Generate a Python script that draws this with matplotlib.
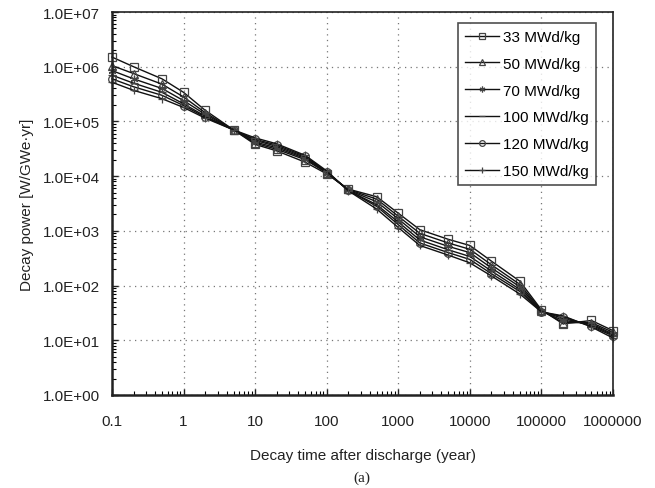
import matplotlib
matplotlib.use("Agg")
import matplotlib.pyplot as plt
from matplotlib.ticker import LogLocator, FixedLocator, FixedFormatter, NullFormatter

plt.rcParams['font.family'] = ['Liberation Sans', 'DejaVu Sans']

time_years = [0.1, 0.2, 0.5, 1, 2, 5, 10, 20, 50, 100, 200, 500, 1e3, 2e3,
              5e3, 1e4, 2e4, 5e4, 1e5, 2e5, 5e5, 1e6]

labels = ["33 MWd/kg", "50 MWd/kg", "70 MWd/kg", "100 MWd/kg", "120 MWd/kg", "150 MWd/kg"]

p33 = [1.5e6, 1.0e6, 6.0e5, 3.4e5, 1.6e5, 7.0e4, 3.8e4, 2.9e4, 1.8e4, 1.1e4, 5.8e3, 4.2e3,
       2.1e3, 1.05e3, 7.0e2, 5.4e2, 2.8e2, 1.2e2, 3.6e1, 2.0e1, 2.3e1, 1.5e1]
p50 = [1.05e6, 7.5e5, 4.8e5, 2.8e5, 1.45e5, 7.0e4, 4.0e4, 3.1e4, 2.0e4, 1.15e4, 5.7e3, 3.8e3,
       1.85e3, 9.0e2, 6.0e2, 4.6e2, 2.4e2, 1.05e2, 3.5e1, 2.1e1, 2.1e1, 1.4e1]
p70 = [8.5e5, 6.0e5, 4.0e5, 2.4e5, 1.35e5, 7.0e4, 4.2e4, 3.3e4, 2.1e4, 1.15e4, 5.6e3, 3.4e3,
       1.65e3, 7.8e2, 5.2e2, 4.0e2, 2.1e2, 9.5e1, 3.4e1, 2.3e1, 2.0e1, 1.3e1]
p100 = [7.0e5, 5.0e5, 3.4e5, 2.1e5, 1.25e5, 7.0e4, 4.5e4, 3.5e4, 2.2e4, 1.2e4, 5.5e3, 3.0e3,
        1.45e3, 6.8e2, 4.5e2, 3.4e2, 1.85e2, 8.5e1, 3.4e1, 2.5e1, 1.9e1, 1.25e1]
p120 = [6.0e5, 4.3e5, 3.0e5, 1.95e5, 1.2e5, 7.0e4, 4.7e4, 3.7e4, 2.3e4, 1.2e4, 5.5e3, 2.8e3,
        1.3e3, 6.0e2, 4.0e2, 3.0e2, 1.65e2, 7.8e1, 3.3e1, 2.7e1, 1.8e1, 1.2e1]
p150 = [5.2e5, 3.7e5, 2.6e5, 1.8e5, 1.15e5, 7.0e4, 5.0e4, 3.9e4, 2.4e4, 1.25e4, 5.4e3, 2.5e3,
        1.15e3, 5.4e2, 3.6e2, 2.6e2, 1.5e2, 7.0e1, 3.3e1, 2.8e1, 1.75e1, 1.1e1]

series = [p33, p50, p70, p100, p120, p150]
markers = ['s', '^', (6, 2, 0), '_', 'o', '+']

xticks = [0.1, 1, 10, 100, 1000, 10000, 100000, 1000000]
xticklabels = ["0.1", "1", "10", "100", "1000", "10000", "100000", "1000000"]
yticks = [1e0, 1e1, 1e2, 1e3, 1e4, 1e5, 1e6, 1e7]
yticklabels = ["1.0E+00", "1.0E+01", "1.0E+02", "1.0E+03", "1.0E+04", "1.0E+05", "1.0E+06", "1.0E+07"]

fig = plt.figure(figsize=(6.55, 4.89), dpi=100)
ax = fig.add_axes([112/655, 1-396/489, (613-112)/655, (396-13)/489])

for vals, lab, mk in zip(series, labels, markers):
    ax.plot(time_years, vals, color='#111111', lw=1.0, marker=mk, markersize=5.5,
            mfc='none', mec='#444444', mew=0.9, label=lab, clip_on=False)

ax.set_xscale('log')
ax.set_yscale('log')
ax.set_xlim(0.1, 1e6)
ax.set_ylim(1, 1e7)

ax.xaxis.set_major_locator(FixedLocator(xticks))
ax.xaxis.set_major_formatter(FixedFormatter(xticklabels))
ax.yaxis.set_major_locator(FixedLocator(yticks))
ax.yaxis.set_major_formatter(FixedFormatter(yticklabels))
ax.xaxis.set_minor_locator(LogLocator(base=10, subs=range(2, 10), numticks=20))
ax.yaxis.set_minor_locator(LogLocator(base=10, subs=range(2, 10), numticks=20))
ax.xaxis.set_minor_formatter(NullFormatter())
ax.yaxis.set_minor_formatter(NullFormatter())

ax.tick_params(axis='both', which='major', direction='in', length=4, width=1,
               labelsize=11, colors='#222222')
ax.tick_params(axis='both', which='minor', direction='in', length=3, width=0.8)
ax.tick_params(axis='y', which='major', pad=9)
ax.tick_params(axis='x', which='major', pad=14)
ax.tick_params(top=False, right=False, which='both')

ax.grid(True, which='major', linestyle=(0, (1, 3.5)), color='#777777', lw=0.9)

for s in ax.spines.values():
    s.set_color('#222222')
    s.set_linewidth(1.2)
ax.spines['left'].set_linewidth(1.8)
ax.spines['bottom'].set_linewidth(1.8)

ax.set_xlabel("Decay time after discharge (year)", fontsize=11, color='#222222', labelpad=14)
ax.set_ylabel("Decay power [W/GWe·yr]", fontsize=11, color='#222222', labelpad=6)

leg = ax.legend(loc='upper right', bbox_to_anchor=((596-112)/501, (396-24)/383),
                borderaxespad=0, fontsize=11, frameon=True, fancybox=False,
                handlelength=2.2, handletextpad=0.3, labelspacing=0.84,
                borderpad=0.45, markerscale=0.75)
leg.get_frame().set_edgecolor('#222222')
leg.get_frame().set_linewidth(1.2)

fig.text(362/655, 1-478/489, "(a)", family=['Liberation Serif', 'DejaVu Serif'],
         fontsize=11, ha='center', va='center', color='#222222')

fig.savefig("out.png", dpi=100)
